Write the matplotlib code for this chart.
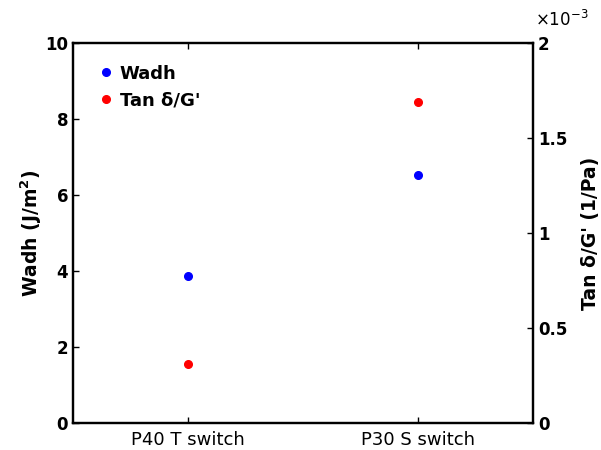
import matplotlib
matplotlib.use("Agg")
import matplotlib.pyplot as plt

categories = ["P40 T switch", "P30 S switch"]
wadh = [3.88, 6.53]
tan_g = [0.31e-3, 1.69e-3]

plt.rcParams['font.family'] = ['DejaVu Sans']
plt.rcParams['font.size'] = 12

fig = plt.figure(figsize=(6.01, 4.5), dpi=100)
ax = fig.add_axes([73/601, 27/450, 460/601, 380/450])
x = [1, 2]
l1, = ax.plot(x, wadh, 'o', color='#0000ff', markersize=5.5, label='Wadh')
ax.set_xlim(0.5, 2.5)
ax.set_ylim(0, 10)
ax.set_yticks([0, 2, 4, 6, 8, 10])
ax.set_xticks(x)
ax.set_xticklabels(categories, fontsize=13)
for t in ax.get_yticklabels():
    t.set_fontweight('bold')
ax.set_ylabel('Wadh (J/m$^\\mathbf{2}$)', fontsize=13.5, fontweight='bold', labelpad=1)
ax.tick_params(direction='in', length=4, width=1, top=True)
ax.tick_params(axis='x', pad=6)

ax2 = ax.twinx()
l2, = ax2.plot(x, tan_g, 'o', color='#ff0000', markersize=5.5, label="Tan δ/G'")
ax2.set_ylim(0, 2e-3)
ax2.set_yticks([0, 0.5e-3, 1e-3, 1.5e-3, 2e-3])
ax2.set_yticklabels(['0', '0.5', '1', '1.5', '2'], fontweight='bold')
ax2.set_ylabel("Tan δ/G' (1/Pa)", fontsize=13.5, fontweight='bold', labelpad=10)
ax2.tick_params(direction='in', length=4, width=1)
fig.text(535/601, 1 - 30/450, r'$\times10^{-3}$', fontsize=12, ha='left', va='bottom')

for a in (ax, ax2):
    for s in a.spines.values():
        s.set_linewidth(1.6)

ax.legend(handles=[l1, l2], loc='upper left', frameon=False, handletextpad=0.2,
          borderaxespad=0.8, prop={'size': 13, 'weight': 'bold'}, handlelength=1.2)

fig.savefig('out.png', dpi=100)
